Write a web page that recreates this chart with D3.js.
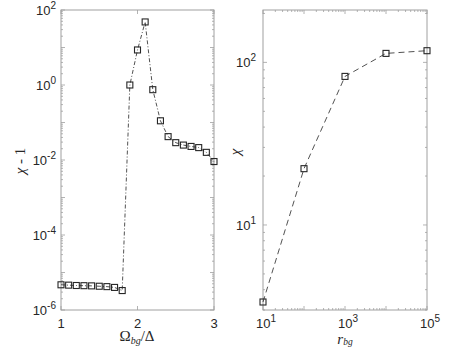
<!DOCTYPE html>
<html>
<head>
<meta charset="utf-8">
<script src="https://cdn.jsdelivr.net/npm/d3@7"></script>
<style>
  body { margin: 0; background: #fff; }
  .tick-label { font-family: "Liberation Sans", Arial, sans-serif; font-size: 13px; fill: #262626; }
  .axis-title { font-family: "Liberation Serif", "DejaVu Serif", serif; font-style: italic; font-size: 15px; fill: #262626; }
</style>
</head>
<body>
<svg id="fig"></svg>
<script>
"use strict";

var width  = 463,
    height = 348;

// left panel: chi - 1 versus Omega_bg / Delta
var omega = [1.0, 1.1, 1.2, 1.3, 1.4, 1.5, 1.6, 1.7, 1.8,
             1.9, 2.0, 2.1, 2.2, 2.3, 2.4, 2.5, 2.6, 2.7, 2.8, 2.9, 3.0];
var chiMinusOne = [4.7e-6, 4.6e-6, 4.5e-6, 4.45e-6, 4.4e-6, 4.3e-6, 4.2e-6, 4.0e-6, 3.3e-6,
                   1.0, 8.6, 48, 0.75, 0.111, 0.042, 0.029, 0.025, 0.023, 0.0214, 0.016, 0.0091];
var leftXTicks = [1, 2, 3];
var leftYTicks = [-6, -4, -2, 0, 2];   // exponents

// right panel: chi versus r_bg
var rbg = [10, 100, 1000, 10000, 100000];
var chi = [3.36, 22.2, 82, 113.6, 118];
var rightXTicks = [1, 3, 5];   // exponents
var rightYTicks = [1, 2];      // exponents

var axisColor = "#a0a0a0",
    inkColor  = "#262626";

var svg = d3.select("#fig")
            .attr("width", width)
            .attr("height", height);

var plotTop = 10, plotBottom = 310;

function supLabel(g, x, y, exp, anchor) {
    var t = g.append("text")
             .attr("class", "tick-label")
             .attr("x", x)
             .attr("y", y)
             .attr("text-anchor", anchor);
    t.append("tspan").text("10");
    t.append("tspan").attr("dy", -6).attr("font-size", "10px").text(exp);
    return t;
}

// draws box, ticks (inward, both sides), minor ticks for log scales
function drawFrame(g, x, y, xLog, yLog) {
    var x0 = x.range()[0], x1 = x.range()[1],
        y0 = y.range()[0], y1 = y.range()[1];
    var major = 4, minor = 2;

    g.append("rect")
     .attr("x", x0).attr("y", y1)
     .attr("width", x1 - x0).attr("height", y0 - y1)
     .attr("fill", "none")
     .attr("stroke", axisColor)
     .attr("stroke-width", 1);

    var ticks = g.append("g").attr("stroke", axisColor).attr("stroke-width", 0.8);

    function xTick(v, len) {
        ticks.append("line").attr("x1", x(v)).attr("x2", x(v)).attr("y1", y0).attr("y2", y0 - len);
        ticks.append("line").attr("x1", x(v)).attr("x2", x(v)).attr("y1", y1).attr("y2", y1 + len);
    }
    function yTick(v, len) {
        ticks.append("line").attr("y1", y(v)).attr("y2", y(v)).attr("x1", x0).attr("x2", x0 + len);
        ticks.append("line").attr("y1", y(v)).attr("y2", y(v)).attr("x1", x1).attr("x2", x1 - len);
    }

    if (xLog) {
        x.ticks().forEach(function(v) {
            var e = Math.log10(v);
            xTick(v, Math.abs(e - Math.round(e)) < 1e-9 ? major : minor);
        });
    }
    if (yLog) {
        y.ticks().forEach(function(v) {
            var e = Math.log10(v);
            yTick(v, Math.abs(e - Math.round(e)) < 1e-9 ? major : minor);
        });
    }
    return {xTick: xTick, yTick: yTick, major: major};
}

function square(g, cx, cy) {
    g.append("rect")
     .attr("x", cx - 3).attr("y", cy - 3)
     .attr("width", 6).attr("height", 6)
     .attr("fill", "none")
     .attr("stroke", inkColor)
     .attr("stroke-width", 1.1);
}

// ---------- left panel ----------
var xL = d3.scaleLinear().domain([1, 3]).range([61, 214]);
var yL = d3.scaleLog().domain([1e-6, 1e2]).range([plotBottom, plotTop]);

var left = svg.append("g").attr("class", "left");
var fL = drawFrame(left, xL, yL, false, true);
leftXTicks.forEach(function(v) { fL.xTick(v, fL.major); });

leftXTicks.forEach(function(v) {
    left.append("text")
        .attr("class", "tick-label")
        .attr("x", xL(v))
        .attr("y", plotBottom + 18)
        .attr("text-anchor", "middle")
        .text(v);
});
leftYTicks.forEach(function(e) {
    supLabel(left, 56, yL(Math.pow(10, e)) + 5, e < 0 ? "-" + (-e) : e, "end");
});

left.append("path")
    .datum(d3.zip(omega, chiMinusOne))
    .attr("fill", "none")
    .attr("stroke", inkColor)
    .attr("stroke-width", 0.8)
    .attr("stroke-dasharray", "4,2,1,2")
    .attr("d", d3.line().x(function(d) { return xL(d[0]); })
                        .y(function(d) { return yL(d[1]); }));

d3.zip(omega, chiMinusOne).forEach(function(d) { square(left, xL(d[0]), yL(d[1])); });

var ylab = left.append("text")
    .attr("class", "axis-title")
    .attr("transform", "translate(25, 161) rotate(-90)")
    .attr("text-anchor", "middle");
ylab.append("tspan").text("\u03c7");
ylab.append("tspan").attr("font-style", "normal").text(" - 1");

var xlab = left.append("text")
    .attr("class", "axis-title")
    .attr("x", 137)
    .attr("y", 341)
    .attr("text-anchor", "middle");
xlab.append("tspan").attr("font-style", "normal").text("\u03a9");
xlab.append("tspan").attr("font-size", "10px").attr("dy", 3).text("bg");
xlab.append("tspan").attr("font-style", "normal").attr("dy", -3).text("/\u0394");

// ---------- right panel ----------
var xR = d3.scaleLog().domain([10, 1e5]).range([263, 427]);
var yR = d3.scaleLog().domain([3, 210]).range([plotBottom, plotTop]);

var right = svg.append("g").attr("class", "right");
drawFrame(right, xR, yR, true, true);

rightXTicks.forEach(function(e) {
    supLabel(right, xR(Math.pow(10, e)) + 3, plotBottom + 18, e, "middle");
});
rightYTicks.forEach(function(e) {
    supLabel(right, 256, yR(Math.pow(10, e)) + 5, e, "end");
});

right.append("path")
    .datum(d3.zip(rbg, chi))
    .attr("fill", "none")
    .attr("stroke", inkColor)
    .attr("stroke-width", 0.8)
    .attr("stroke-dasharray", "6,4")
    .attr("d", d3.line().x(function(d) { return xR(d[0]); })
                        .y(function(d) { return yR(d[1]); }));

d3.zip(rbg, chi).forEach(function(d) { square(right, xR(d[0]), yR(d[1])); });

right.append("text")
    .attr("class", "axis-title")
    .attr("transform", "translate(240, 152) rotate(-90)")
    .attr("text-anchor", "middle")
    .text("\u03c7");

var rlab = right.append("text")
    .attr("class", "axis-title")
    .attr("x", 345)
    .attr("y", 344)
    .attr("font-size", "14px")
    .attr("text-anchor", "middle");
rlab.append("tspan").text("r");
rlab.append("tspan").attr("font-size", "9.5px").attr("dy", 1).text("bg");
</script>
</body>
</html>
